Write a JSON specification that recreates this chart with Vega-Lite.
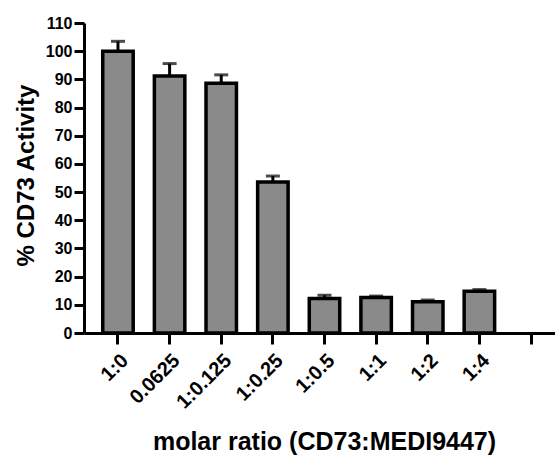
{
  "$schema": "https://vega.github.io/schema/vega-lite/v6.json",
  "autosize": {"type": "none"},
  "width": 471,
  "height": 310,
  "padding": {"left": 84, "top": 23, "right": 0, "bottom": 122},
  "background": "white",
  "config": {
    "view": {"stroke": null},
    "font": "Liberation Sans",
    "axis": {
      "grid": false,
      "domainColor": "black",
      "domainWidth": 3,
      "tickColor": "black",
      "tickWidth": 3,
      "labelColor": "black",
      "labelFont": "Liberation Sans",
      "labelFontWeight": "bold",
      "titleColor": "black",
      "titleFont": "Liberation Sans",
      "titleFontWeight": "bold",
      "titleFontSize": 24
    },
    "axisX": {
      "tickSize": 11, "labelAngle": -45, "labelPadding": 6, "labelFontSize": 20,
      "titleX": 240, "titleY": 116, "titleFontSize": 25, "titleBaseline": "alphabetic", "titleAlign": "center"
    },
    "axisY": {
      "tickSize": 10, "labelPadding": 2, "labelFontSize": 16, "labelOverlap": false,
      "titleX": -51, "titleY": 152, "titleBaseline": "alphabetic", "titleAlign": "center", "titleAngle": -90
    }
  },
  "data": {
    "values": [
      {"ratio": "1:0", "activity": 100, "upper": 103.5},
      {"ratio": "0.0625", "activity": 91.2, "upper": 95.6},
      {"ratio": "1:0.125", "activity": 88.6, "upper": 91.6},
      {"ratio": "1:0.25", "activity": 53.6, "upper": 55.7},
      {"ratio": "1:0.5", "activity": 12.2, "upper": 13.4},
      {"ratio": "1:1", "activity": 12.6, "upper": 13.1},
      {"ratio": "1:2", "activity": 11.1, "upper": 11.7},
      {"ratio": "1:4", "activity": 14.8, "upper": 15.4}
    ]
  },
  "encoding": {
    "x": {
      "field": "ratio",
      "type": "nominal",
      "sort": null,
      "scale": {
        "domain": ["1:0", "0.0625", "1:0.125", "1:0.25", "1:0.5", "1:1", "1:2", "1:4", " "],
        "range": [0, 481],
        "paddingInner": 0.41,
        "paddingOuter": 0.363
      },
      "axis": {"title": "molar ratio (CD73:MEDI9447)"}
    },
    "y": {
      "field": "activity",
      "type": "quantitative",
      "scale": {"domain": [0, 110], "nice": false},
      "axis": {
        "title": "% CD73 Activity",
        "values": [0, 10, 20, 30, 40, 50, 60, 70, 80, 90, 100, 110]
      }
    }
  },
  "layer": [
    {
      "mark": {"type": "bar", "fill": "#8a8a8a", "stroke": "black", "strokeWidth": 3.5}
    },
    {
      "mark": {"type": "rule", "color": "black", "strokeWidth": 3},
      "encoding": {
        "y2": {"field": "upper"}
      }
    },
    {
      "mark": {"type": "tick", "color": "black", "thickness": 3, "size": 14, "orient": "horizontal"},
      "encoding": {
        "y": {
          "field": "upper",
          "type": "quantitative",
          "axis": {
            "title": "% CD73 Activity",
            "values": [0, 10, 20, 30, 40, 50, 60, 70, 80, 90, 100, 110]
          }
        }
      }
    }
  ]
}
